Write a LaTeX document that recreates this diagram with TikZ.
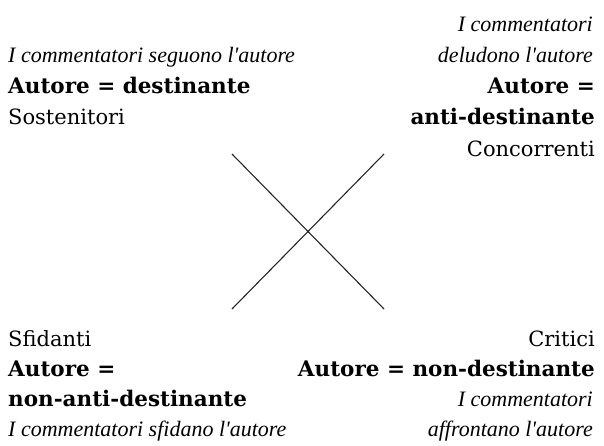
\documentclass[tikz,border=0pt]{standalone}
\usepackage{fontspec}
\setmainfont{DejaVu Serif}
\newfontfamily\rmfam{DejaVu Serif}
\newfontfamily\itfam{Liberation Serif Italic}[Ligatures=ResetAll]
\begin{document}
\begin{tikzpicture}[x=1pt,y=-1pt,
  txt/.style={inner sep=0pt},
  lab/.style={txt,font=\fontsize{21}{25}\selectfont\rmfam},
  it/.style={txt,font=\fontsize{22}{26}\selectfont\itfam},
  bf/.style={txt,font=\fontsize{21.5}{26}\selectfont\rmfam\bfseries},
  L/.style={anchor=base west},
  R/.style={anchor=base east},
  cross/.style={line width=1.1pt,black!85}]
\useasboundingbox (0,0) rectangle (604,446);
% top left
\node[it,L] (tl1) at (8,63) {I commentatori seguono l'autore};
\node[bf,L] (tl2) at (8,94) {Autore = destinante};
\node[lab,L] (tl3) at (8,125) {Sostenitori};
% top right
\node[it,R] (tr1) at (593,32) {I commentatori};
\node[it,R] (tr2) at (593,63) {deludono l'autore};
\node[bf,R] (tr3) at (595,94) {Autore =};
\node[bf,R] (tr4) at (595,125) {anti-destinante};
\node[lab,R] (tr5) at (595,157) {Concorrenti};
% bottom left
\node[lab,L] (bl1) at (8,346) {Sfidanti};
\node[bf,L] (bl2) at (8,376) {Autore =};
\node[bf,L] (bl3) at (8,406) {non-anti-destinante};
\node[it,L] (bl4) at (8,436) {I commentatori sfidano l'autore};
% bottom right
\node[lab,R] (br1) at (595,346) {Critici};
\node[bf,R] (br2) at (595,376) {Autore = non-destinante};
\node[it,R] (br3) at (593,406) {I commentatori};
\node[it,R] (br4) at (593,436) {affrontano l'autore};
% cross
\coordinate (a1) at (232,154);
\coordinate (a2) at (384,309);
\coordinate (b1) at (384,154);
\coordinate (b2) at (232,309);
\draw[cross] (a1) -- (a2);
\draw[cross] (b1) -- (b2);
\end{tikzpicture}
\end{document}
